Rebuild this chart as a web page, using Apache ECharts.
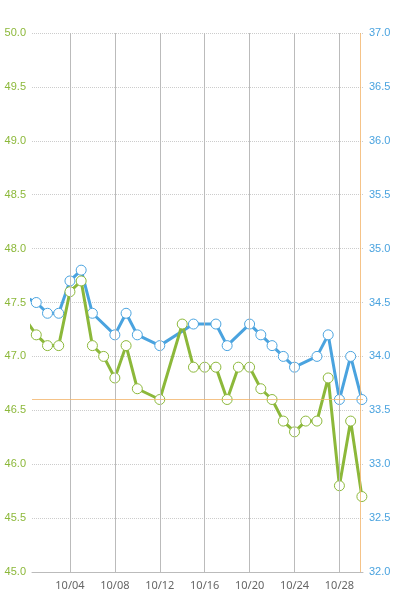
<!DOCTYPE html>
<html><head><meta charset="utf-8">
<script src="https://cdn.jsdelivr.net/npm/echarts@6/dist/echarts.min.js"></script>
<style>html,body{margin:0;padding:0;background:#fff}#c{width:400px;height:600px}</style>
</head><body><div id="c"></div>
<script>
const days = [0,1,2,3,4,5,6,7,8,9,10,11,12,13,14,15,16,17,18,19,20,21,22,23,24,25,26,27,28,29,30];
const weight = [47.35,47.2,47.1,47.1,47.6,47.7,47.1,47.0,46.8,47.1,46.7,null,46.6,null,47.3,46.9,46.9,46.9,46.6,46.9,46.9,46.7,46.6,46.4,46.3,46.4,46.4,46.8,45.8,46.4,45.7];
const fat = [34.55,34.5,34.4,34.4,34.7,34.8,34.4,null,34.2,34.4,34.2,null,34.1,null,null,34.3,null,34.3,34.1,null,34.3,34.2,34.1,34.0,33.9,null,34.0,34.2,33.6,34.0,33.6];
const tickDays = [4,8,12,16,20,24,28];
const G='#8cb83a', B='#4aa3df';
const mk=(arr)=>days.map((d,i)=>[d,arr[i]]);
const chart = echarts.init(document.getElementById('c'));
chart.setOption({
  animation:false,
  grid:{left:32,right:37,top:33,bottom:28},
  xAxis:{type:'value',min:0.62,max:30.1,
    axisLine:{show:true,lineStyle:{color:'#bbb'}},
    axisTick:{show:false},
    splitLine:{show:false},
    axisLabel:{customValues:tickDays,color:'#666',fontSize:11,fontFamily:'Noto Sans',
      formatter:v=>'10/'+String(v).padStart(2,'0')}},
  yAxis:[
    {type:'value',min:45,max:50,interval:0.5,position:'left',
     axisLine:{show:false},axisTick:{show:false},
     axisLabel:{color:G,fontSize:11,margin:6,formatter:v=>v.toFixed(1)},
     splitLine:{lineStyle:{color:'#ccc',type:'dotted'}}},
    {type:'value',min:32,max:37,interval:0.5,position:'right',
     axisLine:{show:false},axisTick:{show:false},
     axisLabel:{color:B,fontSize:11,margin:6,formatter:v=>v.toFixed(1)},
     splitLine:{show:false}}
  ],
  series:[
    {type:'line',yAxisIndex:1,data:mk(fat),connectNulls:true,symbol:'circle',symbolSize:10,
     lineStyle:{color:B,width:3},itemStyle:{color:'#fff',borderColor:B,borderWidth:1},z:3,
     markLine:{silent:true,symbol:'none',label:{show:false},
       lineStyle:{color:'#bbb',type:'solid',width:1},
       data:tickDays.map(d=>({xAxis:d}))}},
    {type:'line',yAxisIndex:0,data:mk(weight),connectNulls:true,symbol:'circle',symbolSize:10,
     lineStyle:{color:G,width:3},itemStyle:{color:'#fff',borderColor:G,borderWidth:1},z:4,
     markLine:{silent:true,symbol:'none',label:{show:false},
       lineStyle:{color:'#f3b46a',type:'solid',width:1,opacity:0.8},
       data:[{xAxis:29.85},{yAxis:46.6}]}}
  ]
});
</script></body></html>
